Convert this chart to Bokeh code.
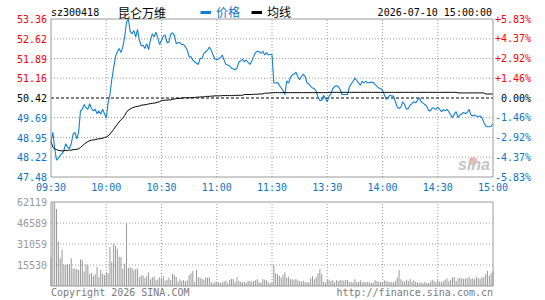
from bokeh.plotting import figure
from bokeh.models import Range1d, Legend, LegendItem
from bokeh.core.properties import value
from bokeh.embed import file_html
from bokeh.resources import INLINE

# ---------------- data ----------------
minutes = list(range(241))  # 09:30 .. 11:30 (0..120), 13:01 .. 15:00 (121..240)

price = [
    48.80, 49.14, 48.53, 48.11, 48.17, 48.29, 48.35, 48.47, 48.72, 48.59,
    48.53, 48.72, 49.08, 49.14, 48.90, 49.14, 49.94, 50.00, 50.18, 50.06,
    50.00, 50.21, 50.03, 49.94, 50.00, 49.84, 49.94, 49.82, 50.00, 49.84,
    49.67, 50.24, 50.55, 51.10, 51.53, 51.95, 52.14, 52.26, 52.11, 52.32,
    52.69, 53.24, 53.36, 52.90, 52.81, 52.93, 52.69, 52.97, 52.57, 52.36,
    52.38, 52.26, 52.44, 52.22, 52.57, 52.81, 52.69, 52.87, 52.65, 52.41,
    52.57, 52.72, 52.77, 52.48, 52.50, 52.79, 52.85, 52.75, 52.44, 52.48,
    52.48, 52.41, 52.41, 52.32, 52.20, 51.95, 51.95, 51.83, 51.77, 51.71,
    51.67, 51.89, 51.89, 52.08, 52.14, 52.20, 52.32, 52.20, 52.02, 51.87,
    51.83, 51.89, 51.92, 52.02, 51.83, 51.67, 51.65, 51.62, 51.53, 51.50,
    51.47, 51.53, 51.77, 51.80, 51.87, 51.77, 51.83, 51.75, 51.67, 51.80,
    51.95, 52.11, 52.16, 52.14, 52.08, 52.16, 52.02, 52.11, 52.02, 52.04,
    52.04,
    50.98, 50.98, 51.00, 50.89, 50.79, 50.70, 50.55, 51.06, 50.98,
    51.18, 51.28, 51.31, 51.38, 51.22, 51.10, 51.22, 51.31, 51.22, 50.98,
    50.94, 50.85, 50.79, 50.77, 50.67, 50.45, 50.33, 50.33, 50.52, 50.40,
    50.28, 50.49, 50.57, 50.77, 50.85, 50.88, 50.85, 50.73, 50.55, 50.55,
    50.55, 50.55, 50.82, 50.94, 51.04, 51.16, 51.07, 50.98, 50.89, 51.04,
    50.98, 51.04, 50.98, 51.00, 51.00, 51.00, 50.92, 50.85, 50.79, 50.77,
    50.70, 50.55, 50.37, 50.45, 50.52, 50.49, 50.49, 50.28, 50.08, 50.03,
    50.08, 50.28, 50.18, 50.00, 50.03, 50.16, 50.21, 50.28, 50.24, 50.33,
    50.43, 50.28, 50.23, 50.18, 50.11, 49.96, 49.94, 50.06, 50.03, 50.00,
    50.08, 50.00, 49.91, 49.99, 49.94, 50.00, 49.91, 49.79, 49.69, 49.82,
    49.91, 49.69, 49.79, 49.82, 49.88, 49.84, 49.88, 50.00, 49.79, 49.75,
    49.79, 49.75, 49.72, 49.75, 49.69, 49.51, 49.39, 49.35, 49.35, 49.37,
    49.45,
]

avg_price = [
    48.80, 48.59, 48.53, 48.50, 48.47, 48.46, 48.45, 48.46, 48.47, 48.47,
    48.48, 48.48, 48.50, 48.50, 48.51, 48.53, 48.58, 48.64, 48.70, 48.75,
    48.80, 48.83, 48.85, 48.86, 48.87, 48.89, 48.90, 48.91, 48.92, 48.95,
    48.97, 49.01, 49.08, 49.16, 49.25, 49.35, 49.44, 49.53, 49.61, 49.67,
    49.77, 49.89, 49.97, 50.01, 50.05, 50.07, 50.10, 50.11, 50.12, 50.15,
    50.16, 50.17, 50.18, 50.20, 50.21, 50.22, 50.23, 50.24, 50.27, 50.28,
    50.33, 50.33, 50.34, 50.34, 50.35, 50.35, 50.37, 50.38, 50.40, 50.40,
    50.41, 50.41, 50.43, 50.43, 50.43, 50.43, 50.43, 50.44, 50.44, 50.45,
    50.45, 50.46, 50.46, 50.46, 50.48, 50.48, 50.48, 50.49, 50.49, 50.50,
    50.50, 50.50, 50.50, 50.51, 50.51, 50.51, 50.51, 50.51, 50.51, 50.51,
    50.52, 50.52, 50.52, 50.52, 50.52, 50.55, 50.55, 50.55, 50.55, 50.55,
    50.56, 50.56, 50.56, 50.57, 50.57, 50.57, 50.60, 50.60, 50.60, 50.61,
    50.61,
    50.62, 50.62, 50.62, 50.62, 50.62, 50.62, 50.62, 50.62, 50.62,
    50.62, 50.62, 50.62, 50.62, 50.62, 50.62, 50.62, 50.62, 50.62, 50.62,
    50.62, 50.62, 50.62, 50.62, 50.62, 50.62, 50.62, 50.62, 50.62, 50.62,
    50.62, 50.63, 50.63, 50.63, 50.63, 50.63, 50.63, 50.63, 50.63, 50.63,
    50.63, 50.63, 50.63, 50.63, 50.63, 50.63, 50.63, 50.63, 50.63, 50.63,
    50.63, 50.63, 50.63, 50.63, 50.63, 50.63, 50.63, 50.63, 50.63, 50.63,
    50.63, 50.63, 50.63, 50.63, 50.63, 50.63, 50.63, 50.63, 50.63, 50.63,
    50.63, 50.63, 50.63, 50.63, 50.63, 50.63, 50.63, 50.63, 50.63, 50.63,
    50.63, 50.63, 50.63, 50.63, 50.63, 50.63, 50.63, 50.63, 50.63, 50.63,
    50.63, 50.63, 50.63, 50.63, 50.63, 50.63, 50.63, 50.63, 50.63, 50.63,
    50.63, 50.61, 50.61, 50.61, 50.61, 50.61, 50.61, 50.61, 50.61, 50.61,
    50.61, 50.61, 50.61, 50.61, 50.61, 50.61, 50.57, 50.57, 50.57, 50.57,
    50.57,
]

volume = [
    21000, 62119, 61800, 57000, 33000, 20500, 27000, 16000, 15500, 16000,
    16000, 20500, 13000, 13000, 12500, 11800, 19700, 19000, 11000, 16000,
    15500, 8600, 9600, 7400, 8600, 14000, 6400, 11800, 9100, 8100,
    10100, 9500, 28800, 18000, 31300, 29600, 27600, 21700, 21200, 12800,
    16500, 46600, 13300, 13800, 13300, 11600, 12500, 13000, 6500, 8000,
    7500, 5800, 7200, 10000, 5000, 6500, 7000, 4200, 4800, 6500,
    5700, 7150, 3940, 4680, 6160, 4440, 9120, 8130, 6650, 3200,
    4930, 3940, 4440, 3450, 4190, 8130, 9370, 11090, 3200, 11830,
    6410, 6160, 5420, 4680, 6410, 6160, 6410, 2710, 1970, 3200,
    3200, 2710, 2470, 2710, 3700, 3700, 1970, 4680, 5180, 5180,
    2710, 6410, 3700, 3200, 2710, 3200, 2470, 3700, 3700, 3200,
    3700, 4190, 4930, 3200, 2470, 5180, 4680, 4190, 3200, 1970,
    2710,
    15500, 9400, 8600, 7600, 6200, 8100, 10100, 6200, 6900,
    5200, 4900, 4700, 5200, 4200, 3700, 3200, 3900, 2700, 2700,
    2700, 5700, 7200, 5000, 6700, 9400, 12500, 8600, 3200, 2500,
    4400, 4700, 3700, 4200, 2700, 4200, 3700, 4400, 4200, 3900,
    4400, 4400, 3000, 3200, 2700, 4900, 2700, 3200, 4200, 2700,
    3200, 2700, 3200, 2500, 2200, 2700, 4200, 3700, 3200, 3200,
    2200, 4200, 3700, 3200, 3200, 2700, 2700, 3900, 6200, 11800,
    4900, 3700, 3200, 4700, 3700, 5200, 3200, 4200, 3200, 2700,
    2200, 2700, 2000, 3200, 2200, 2200, 3200, 4700, 3700, 2700,
    4700, 3200, 2700, 3700, 4700, 5700, 3700, 4700, 6200, 6700,
    3700, 5700, 5700, 5700, 5200, 5700, 5700, 6700, 5200, 5700,
    5200, 6700, 5700, 5200, 6700, 6200, 8600, 11100, 7600, 9400,
    11100,
]

prev_close = 50.42
price_ticks = [47.48, 48.22, 48.95, 49.69, 50.42, 51.16, 51.89, 52.62, 53.36]
price_tick_labels = ["47.48", "48.22", "48.95", "49.69", "50.42",
                     "51.16", "51.89", "52.62", "53.36"]
pct_tick_labels = ["-5.83%", "-4.37%", "-2.92%", "-1.46%", "0.00%",
                   "+1.46%", "+2.92%", "+4.37%", "+5.83%"]
time_ticks = [0, 30, 60, 90, 120, 150, 180, 210, 240]
time_labels = ["09:30", "10:00", "10:30", "11:00", "11:30",
               "13:30", "14:00", "14:30", "15:00"]
vol_ticks = [15530, 31059, 46589, 62119]
vol_tick_labels = ["15530", "31059", "46589", "62119"]

stock_code = "sz300418"
stock_name = "昆仑万维"
legend_names = ["价格", "均线"]
timestamp = "2026-07-10 15:00:00"
copyright_text = "Copyright 2026 SINA.COM"
url_text = "http://finance.sina.com.cn"

# ---------------- style / layout (pixels) ----------------
W, H = 545, 300
PL, PR = 50.5, 492.5          # plot left / right edge
PT, PB = 18.5, 176.5          # price panel top / bottom
VT, VB = 201.5, 285.5         # volume panel top / bottom

BLUE = "#0b74c8"
LINE_BLUE = "#1580d2"
RED = "#ff0000"
GRID = "#9c9c9c"
FRAME = "#9a9a9a"
BAR = "#999999"
MONO = "DejaVu Sans Mono"
CJK = "Noto Sans CJK SC"


def tick_color(v):
    if v > prev_close:
        return RED
    if v < prev_close:
        return BLUE
    return "#000000"


t0, t1 = time_ticks[0], time_ticks[-1]
p0, p1_ = price_ticks[0], price_ticks[-1]
vmax = vol_ticks[-1]

# scales chosen so that the two panels sit where the reference draws them
xs = (t1 - t0) / (PR - PL)
ys = (p1_ - p0) / (PB - PT)
vs = vmax / (VB - VT)

p = figure(width=W, height=H,
           x_range=Range1d(t0 - PL * xs, t1 + (W - PR) * xs),
           y_range=Range1d(p0 - (H - PB) * ys, p1_ + PT * ys),
           output_backend="svg", toolbar_location=None,
           x_axis_location=None, y_axis_location=None, min_border=0)
p.extra_y_ranges = {"vol": Range1d(0 - (H - VB) * vs, vmax + VT * vs)}
p.outline_line_color = None
p.grid.visible = False
p.background_fill_color = "white"
p.border_fill_color = "white"

# ---- price panel grid ----
inner_t = time_ticks[1:-1]
p.segment(x0=inner_t, y0=[p0] * len(inner_t), x1=inner_t, y1=[p1_] * len(inner_t),
          line_color=GRID, line_width=1, line_dash="1 2")
inner_p = [t for t in price_ticks[1:-1] if t != prev_close]
p.segment(x0=[t0] * len(inner_p), y0=inner_p, x1=[t1] * len(inner_p), y1=inner_p,
          line_color=GRID, line_width=1, line_dash="1 2")
p.segment(x0=[t0], y0=[prev_close], x1=[t1], y1=[prev_close],
          line_color="black", line_width=1, line_dash="3 2")

# ---- price + average lines ----
p.line(minutes, price, line_color=LINE_BLUE, line_width=1.1)
p.line(minutes, avg_price, line_color="black", line_width=1)

p.quad(left=[t0], right=[t1], bottom=[p0], top=[p1_],
       fill_color=None, line_color=FRAME, line_width=1)

# ---- price labels ----
p.text(x=[t0] * len(price_ticks), y=price_ticks, text=price_tick_labels,
       x_offset=-4, text_align=value("right"), text_baseline=value("middle"),
       text_font=value(MONO), text_font_size=value("10px"),
       text_color=[tick_color(v) for v in price_ticks])
p.text(x=[t1] * len(price_ticks), y=price_ticks, text=pct_tick_labels,
       x_offset=38, text_align=value("right"), text_baseline=value("middle"),
       text_font=value(MONO), text_font_size=value("10px"),
       text_color=[tick_color(v) for v in price_ticks])
p.text(x=time_ticks, y=[p0] * len(time_ticks), text=time_labels,
       y_offset=5, text_align=value("center"), text_baseline=value("top"),
       text_font=value(MONO), text_font_size=value("10px"), text_color=BLUE)

# ---- header ----
p.text(x=[t0], y=[p1_], text=[stock_code], y_offset=-7,
       text_align=value("left"), text_baseline=value("middle"),
       text_font=value(MONO), text_font_size=value("10px"), text_color="black")
p.text(x=[t0], y=[p1_], text=[stock_name], x_offset=67, y_offset=-7,
       text_align=value("left"), text_baseline=value("middle"),
       text_font=value(CJK), text_font_size=value("12px"), text_color="black")
p.text(x=[t1], y=[p1_], text=[timestamp], x_offset=-1, y_offset=-7,
       text_align=value("right"), text_baseline=value("middle"),
       text_font=value(MONO), text_font_size=value("10px"), text_color="black")

# legend swatches: single-point lines (draw nothing themselves)
leg_r1 = p.line(x=[t0], y=[p0], line_color=LINE_BLUE, line_width=3)
leg_r2 = p.line(x=[t0], y=[p0], line_color="black", line_width=3)
for r, name, col, lx in [(leg_r1, legend_names[0], BLUE, 150),
                         (leg_r2, legend_names[1], "black", 201)]:
    lg = Legend(items=[LegendItem(label=name, renderers=[r])],
                location=(PL + lx - 0.5, H - PT - 1.5),
                glyph_width=11, glyph_height=12, label_height=12,
                label_standoff=5, padding=0, margin=0, spacing=0,
                label_text_font=CJK, label_text_font_size="12px",
                label_text_color=col, border_line_color=None,
                background_fill_alpha=0)
    p.add_layout(lg, "center")

# ---- watermark ----
p.text(x=[t1], y=[p0], text=["●"], x_offset=-20, y_offset=-17,
       text_align=value("center"), text_baseline=value("middle"),
       text_font=value("DejaVu Sans"), text_font_size=value("11px"),
       text_color="#f2b8b8")
p.text(x=[t1], y=[p0], text=["sina"], x_offset=-3, y_offset=-4,
       text_align=value("right"), text_baseline=value("bottom"),
       text_font=value("Liberation Sans"), text_font_size=value("16px"),
       text_font_style=value("bold italic"), text_color="#c4c4c4")

# ---- volume panel ----
p.segment(x0=inner_t, y0=[0] * len(inner_t), x1=inner_t, y1=[vmax] * len(inner_t),
          line_color=GRID, line_width=1, line_dash="1 2", y_range_name="vol")
p.segment(x0=[t0] * 3, y0=vol_ticks[:-1], x1=[t1] * 3, y1=vol_ticks[:-1],
          line_color=GRID, line_width=1, line_dash="1 2", y_range_name="vol")
p.vbar(x=minutes, top=volume, bottom=0, width=0.55, fill_color=BAR,
       line_color=None, y_range_name="vol")
p.quad(left=[t0], right=[t1], bottom=[0], top=[vmax], fill_color=None,
       line_color=FRAME, line_width=1, y_range_name="vol")
p.text(x=[t0] * len(vol_ticks), y=vol_ticks, text=vol_tick_labels,
       x_offset=-4, text_align=value("right"), text_baseline=value("middle"),
       text_font=value(MONO), text_font_size=value("10px"), text_color="#999999",
       y_range_name="vol")
p.text(x=[t0, t1], y=[0, 0], text=[copyright_text, url_text], y_offset=6,
       text_align=["left", "right"], text_baseline=value("middle"),
       text_font=value(MONO), text_font_size=value("10px"), text_color="#7a7a7a",
       y_range_name="vol")

open("out.html", "w").write(file_html(p, INLINE))
